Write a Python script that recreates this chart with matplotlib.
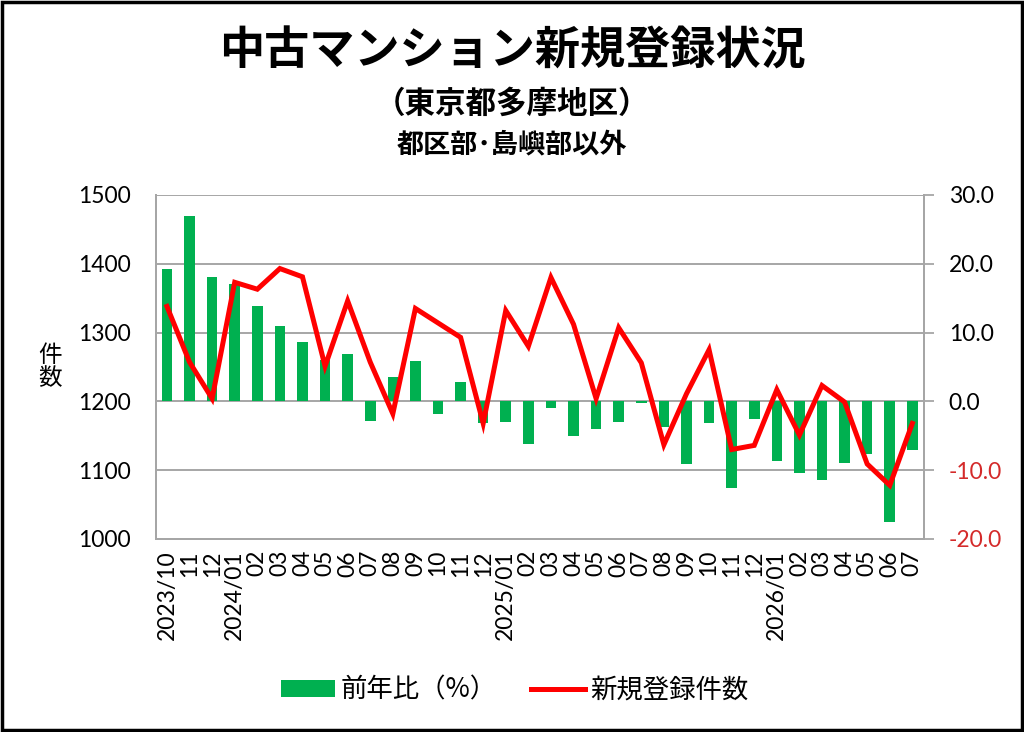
import matplotlib
matplotlib.use("Agg")
import matplotlib.pyplot as plt
from matplotlib.patches import Rectangle, Patch
from matplotlib.lines import Line2D

plt.rcParams['font.family'] = ['Noto Sans CJK JP', 'DejaVu Sans']

# 月ラベル
months = ['2023/10', '11', '12',
          '2024/01', '02', '03', '04', '05', '06', '07', '08', '09', '10', '11', '12',
          '2025/01', '02', '03', '04', '05', '06', '07', '08', '09', '10', '11', '12',
          '2026/01', '02', '03', '04', '05', '06', '07']

# 新規登録件数 (左軸)
counts = [1338, 1257, 1204, 1373, 1363, 1393, 1381, 1251, 1346, 1257, 1182, 1335,
          1314, 1293, 1168, 1332, 1280, 1380, 1312, 1204, 1307, 1256, 1137, 1211,
          1275, 1130, 1136, 1217, 1151, 1223, 1199, 1109, 1078, 1168]

# 前年比 % (右軸)
yoy = [19.2, 26.9, 18.1, 17.0, 13.9, 10.9, 8.6, 6.0, 6.9, -2.9, 3.6, 5.8,
       -1.9, 2.8, -3.2, -3.0, -6.2, -1.0, -5.1, -4.0, -3.0, -0.2, -3.7, -9.1,
       -3.1, -12.6, -2.6, -8.7, -10.4, -11.5, -8.9, -7.6, -17.6, -7.0]

left_ticks = [1000, 1100, 1200, 1300, 1400, 1500]
right_ticks = [-20, -10, 0, 10, 20, 30]

GREEN = '#00b050'
RED = '#ff0000'
GRID = '#a6a6a6'
num_font = ['Lato', 'Noto Sans CJK JP']

fig = plt.figure(figsize=(10.24, 7.32), dpi=100)
ax = fig.add_axes([0.152, 0.2637, 0.750, 0.470])
ax2 = ax.twinx()

x = list(range(len(months)))

# bars on the right axis
ax2.bar(x, yoy, width=0.47, color=GREEN, zorder=2)
ax2.set_ylim(-20, 30)
ax2.set_yticks(right_ticks)
ax2.set_yticklabels([f'{v:.1f}' for v in right_ticks], fontsize=16.5, family=num_font)
for lab, v in zip(ax2.get_yticklabels(), right_ticks):
    lab.set_color('#d42a2a' if v < 0 else 'black')
ax2.tick_params(axis='y', length=7, width=1.3, color=GRID, pad=11)
ax2.grid(axis='y', color=GRID, linewidth=1.4)
ax2.set_axisbelow(True)

# line on the left axis, drawn over the bars
ax.set_zorder(ax2.get_zorder() + 1)
ax.patch.set_visible(False)
ax.plot(x, counts, color=RED, linewidth=3.6, solid_joinstyle='miter')
ax.set_ylim(1000, 1500)
ax.set_yticks(left_ticks)
ax.set_yticklabels([str(v) for v in left_ticks], fontsize=16.5, family=num_font)
ax.tick_params(axis='y', length=0, pad=18)
ax.set_xlim(-0.5, len(months) - 0.5)
ax.set_xticks(x)
ax.set_xticklabels(months, rotation=90, fontsize=16.5, family=num_font)
ax.tick_params(axis='x', length=0, pad=8)

for a in (ax, ax2):
    for s in a.spines.values():
        s.set_color(GRID)
        s.set_linewidth(1.4)
    a.spines['top'].set_visible(False)

# vertical axis label
fig.text(0.049, 0.499, '件\n数', fontsize=17, ha='center', va='center', linespacing=1.0)

# titles
fig.text(0.5, 0.930, '中古マンション新規登録状況', fontsize=32.5, fontweight='bold',
         ha='center', va='center')
fig.text(0.5, 0.858, '（東京都多摩地区）', fontsize=22, fontweight='bold',
         ha='center', va='center')
fig.text(0.5, 0.803, '都区部･島嶼部以外', fontsize=19.5, fontweight='bold',
         ha='center', va='center')

handles = [Patch(facecolor=GREEN, edgecolor='none'),
           Line2D([0], [0], color=RED, linewidth=3.6)]
fig.legend(handles, ['前年比（%）', '新規登録件数'], loc='center', ncol=2,
           bbox_to_anchor=(0.503, 0.057), frameon=False, fontsize=19,
           handlelength=2.05, handleheight=0.6, columnspacing=1.3, handletextpad=0.2)

# outer frame
fig.patches.append(Rectangle((0.002, 0.003), 0.996, 0.994, transform=fig.transFigure,
                             fill=False, edgecolor='black', linewidth=2.5))

fig.savefig('out.png', dpi=100)
